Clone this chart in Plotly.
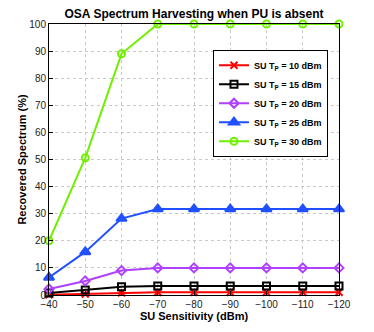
import plotly.graph_objects as go

sensitivity = [-40, -50, -60, -70, -80, -90, -100, -110, -120]
tp10 = [0.1, 0.4, 0.85, 1.0, 1.0, 1.0, 1.0, 1.0, 1.0]
tp15 = [0.7, 1.8, 3.0, 3.3, 3.3, 3.3, 3.3, 3.3, 3.3]
tp20 = [2.2, 5.2, 9.0, 10.0, 10.0, 10.0, 10.0, 10.0, 10.0]
tp25 = [6.5, 15.9, 28.2, 31.7, 31.7, 31.7, 31.7, 31.7, 31.7]
tp30 = [20.0, 50.6, 89.0, 100.0, 100.0, 100.0, 100.0, 100.0, 100.0]
labels = ["10", "15", "20", "25", "30"]

series = [
    (tp10, "#ff0000", "x-thin"),
    (tp15, "#000000", "square-open"),
    (tp20, "#b040ff", "diamond-open"),
    (tp25, "#2050ff", "triangle-up"),
    (tp30, "#70f000", "circle-open"),
]

FONT = "Liberation Sans, Arial, sans-serif"

fig = go.Figure()
for lab, (vals, color, sym) in zip(labels, series):
    fig.add_trace(go.Scatter(
        x=sensitivity, y=vals,
        name="<b>SU T<sub>P</sub> = " + lab + " dBm</b>",
        mode="lines+markers",
        line=dict(color=color, width=2),
        marker=dict(symbol=sym, size=7 if sym != "triangle-up" else 9, color=color,
                    line=dict(color=color, width=2)),
        cliponaxis=False,
    ))

axis_common = dict(
    showline=True, linecolor="black", linewidth=1, mirror=True,
    showgrid=True, gridcolor="#c8c8c8", griddash="dot", gridwidth=1,
    ticks="inside", ticklen=4, tickcolor="black",
    tickfont=dict(family=FONT, size=10, color="#222"),
    zeroline=False, automargin=False,
)

fig.update_layout(
    width=374, height=332,
    margin=dict(l=49, r=35, t=24, b=37),
    paper_bgcolor="white", plot_bgcolor="white",
    title=dict(text="<b>OSA Spectrum Harvesting when PU is absent</b>",
               x=0.5, xanchor="center", xref="paper",
               y=1 - 14 / 332, yref="container", yanchor="middle",
               font=dict(family=FONT, size=12, color="black")),
    xaxis=dict(range=[-40, -120], tickvals=sensitivity,
               title=dict(text="<b>SU Sensitivity (dBm)</b>", standoff=0,
                          font=dict(family=FONT, size=11, color="black")),
               ticklabelstandoff=0,
               **axis_common),
    yaxis=dict(range=[0, 100], tickvals=list(range(0, 101, 10)),
               title=dict(text="<b>Recovered Spectrum (%)</b>", standoff=0,
                          font=dict(family=FONT, size=11, color="black")),
               **axis_common),
    legend=dict(x=0.962, y=0.905, xanchor="right", yanchor="top",
                bgcolor="white", bordercolor="black", borderwidth=1,
                font=dict(family=FONT, size=9, color="black"),
                tracegroupgap=0, itemwidth=30),
    showlegend=True,
)

fig.write_html("out.html",
               config={"displayModeBar": False},
               post_script="document.body.style.margin='0';document.body.style.overflow='hidden';")
